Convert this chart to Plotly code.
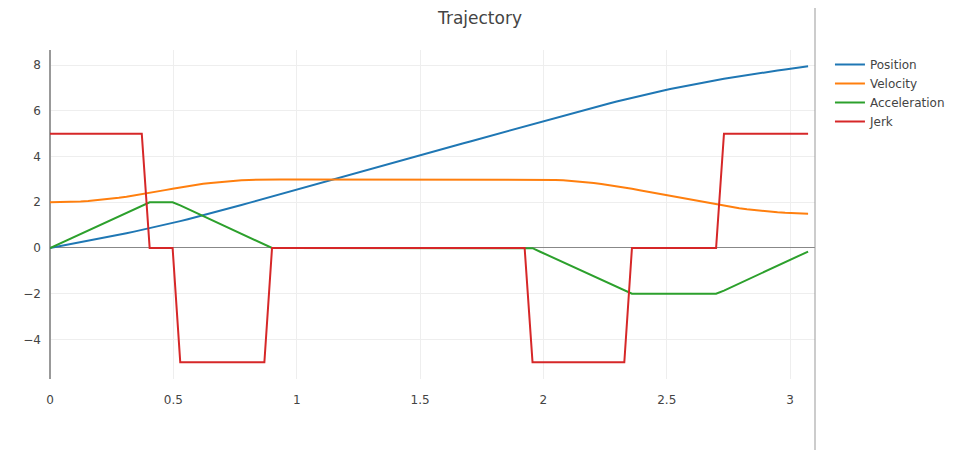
import plotly.graph_objects as go

time = [
    0.000, 0.031, 0.062, 0.093, 0.124, 0.155, 0.186, 0.217, 0.248, 0.279,
    0.310, 0.341, 0.372, 0.404, 0.435, 0.466, 0.497, 0.528, 0.559, 0.590,
    0.621, 0.652, 0.683, 0.714, 0.745, 0.776, 0.807, 0.838, 0.869, 0.900,
    0.931, 0.962, 0.993, 1.024, 1.055, 1.086, 1.117, 1.148, 1.180, 1.211,
    1.242, 1.273, 1.304, 1.335, 1.366, 1.397, 1.428, 1.459, 1.490, 1.521,
    1.552, 1.583, 1.614, 1.645, 1.676, 1.707, 1.738, 1.769, 1.800, 1.831,
    1.862, 1.893, 1.924, 1.956, 1.987, 2.018, 2.049, 2.080, 2.111, 2.142,
    2.173, 2.204, 2.235, 2.266, 2.297, 2.328, 2.359, 2.390, 2.421, 2.452,
    2.483, 2.514, 2.545, 2.576, 2.607, 2.638, 2.669, 2.700, 2.732, 2.763,
    2.794, 2.825, 2.856, 2.887, 2.918, 2.949, 2.980, 3.011, 3.042, 3.073,
]

position = [
    0.000, 0.062, 0.124, 0.187, 0.250, 0.314, 0.378, 0.443, 0.509, 0.577,
    0.646, 0.716, 0.788, 0.862, 0.938, 1.015, 1.095, 1.176, 1.259, 1.344,
    1.431, 1.518, 1.607, 1.697, 1.788, 1.880, 1.972, 2.064, 2.157, 2.251,
    2.344, 2.437, 2.530, 2.623, 2.716, 2.809, 2.902, 2.995, 3.089, 3.182,
    3.275, 3.368, 3.461, 3.554, 3.647, 3.740, 3.834, 3.927, 4.020, 4.113,
    4.206, 4.299, 4.392, 4.485, 4.579, 4.672, 4.765, 4.858, 4.951, 5.044,
    5.137, 5.230, 5.323, 5.417, 5.510, 5.603, 5.695, 5.787, 5.879, 5.970,
    6.060, 6.149, 6.236, 6.323, 6.407, 6.490, 6.572, 6.651, 6.729, 6.804,
    6.878, 6.950, 7.019, 7.087, 7.153, 7.217, 7.279, 7.340, 7.398, 7.454,
    7.509, 7.562, 7.614, 7.665, 7.715, 7.764, 7.812, 7.859, 7.906, 7.953,
]

velocity = [
    2.000, 2.002, 2.010, 2.022, 2.039, 2.060, 2.087, 2.118, 2.154, 2.195,
    2.241, 2.292, 2.347, 2.407, 2.469, 2.531, 2.593, 2.653, 2.709, 2.759,
    2.805, 2.846, 2.882, 2.913, 2.940, 2.962, 2.978, 2.990, 2.998, 3.000,
    3.000, 3.000, 3.000, 3.000, 3.000, 3.000, 3.000, 3.000, 3.000, 3.000,
    3.000, 3.000, 3.000, 3.000, 3.000, 3.000, 3.000, 3.000, 3.000, 3.000,
    3.000, 3.000, 3.000, 3.000, 3.000, 3.000, 3.000, 3.000, 3.000, 3.000,
    3.000, 3.000, 3.000, 3.000, 2.997, 2.990, 2.978, 2.961, 2.939, 2.912,
    2.880, 2.844, 2.803, 2.757, 2.706, 2.650, 2.590, 2.528, 2.466, 2.404,
    2.342, 2.280, 2.217, 2.155, 2.093, 2.031, 1.969, 1.907, 1.847, 1.792,
    1.741, 1.695, 1.654, 1.618, 1.587, 1.560, 1.539, 1.522, 1.510, 1.502,
]

acceleration = [
    0.000, 0.155, 0.310, 0.466, 0.621, 0.776, 0.931, 1.086, 1.242, 1.397,
    1.552, 1.707, 1.862, 2.000, 2.000, 2.000, 2.000, 1.862, 1.706, 1.551,
    1.396, 1.241, 1.086, 0.930, 0.775, 0.620, 0.465, 0.310, 0.154, 0.000,
    0.000, 0.000, 0.000, 0.000, 0.000, 0.000, 0.000, 0.000, 0.000, 0.000,
    0.000, 0.000, 0.000, 0.000, 0.000, 0.000, 0.000, 0.000, 0.000, 0.000,
    0.000, 0.000, 0.000, 0.000, 0.000, 0.000, 0.000, 0.000, 0.000, 0.000,
    0.000, 0.000, 0.000, -0.008, -0.163, -0.318, -0.473, -0.628, -0.784, -0.939,
    -1.094, -1.249, -1.404, -1.560, -1.715, -1.870, -2.000, -2.000, -2.000, -2.000,
    -2.000, -2.000, -2.000, -2.000, -2.000, -2.000, -2.000, -2.000, -1.862, -1.707,
    -1.552, -1.397, -1.242, -1.086, -0.931, -0.776, -0.621, -0.466, -0.310, -0.155,
]

jerk = [
    5, 5, 5, 5, 5, 5, 5, 5, 5, 5,
    5, 5, 5, 0, 0, 0, 0, -5, -5, -5,
    -5, -5, -5, -5, -5, -5, -5, -5, -5, 0,
    0, 0, 0, 0, 0, 0, 0, 0, 0, 0,
    0, 0, 0, 0, 0, 0, 0, 0, 0, 0,
    0, 0, 0, 0, 0, 0, 0, 0, 0, 0,
    0, 0, 0, -5, -5, -5, -5, -5, -5, -5,
    -5, -5, -5, -5, -5, -5, 0, 0, 0, 0,
    0, 0, 0, 0, 0, 0, 0, 0, 5, 5,
    5, 5, 5, 5, 5, 5, 5, 5, 5, 5,
]

series = {
    "Position": (position, "#1f77b4"),
    "Velocity": (velocity, "#ff7f0e"),
    "Acceleration": (acceleration, "#2ca02c"),
    "Jerk": (jerk, "#d62728"),
}

t_end = 3.101

fig = go.Figure()
for name, (values, color) in series.items():
    fig.add_trace(
        go.Scatter(
            x=time,
            y=values,
            mode="lines",
            name=name,
            line=dict(color=color, width=2),
        )
    )

# thin divider on the right edge of the plot area
fig.add_shape(
    type="line",
    xref="paper",
    yref="paper",
    x0=1,
    x1=1,
    y0=-0.4,
    y1=1.4,
    line=dict(color="#999", width=1),
)

fig.update_layout(
    template="none",
    width=952,
    height=442,
    margin=dict(l=42, r=145, t=42, b=71),
    font=dict(family="DejaVu Sans", color="#444", size=12),
    title=dict(
        text="Trajectory",
        x=0.4958,
        xanchor="center",
        y=0.977,
        yanchor="middle",
        font=dict(size=17),
    ),
    legend=dict(xref="container", x=0.8634, xanchor="left", yref="paper", y=1, yanchor="top"),
    xaxis=dict(
        range=[0, t_end],
        dtick=0.5,
        showgrid=True,
        gridcolor="#eee",
        zeroline=True,
        zerolinecolor="#999",
        zerolinewidth=2,
        ticks="",
        ticklabelstandoff=12,
    ),
    yaxis=dict(
        range=[-5.73, 8.66],
        dtick=2,
        showgrid=True,
        gridcolor="#eee",
        zeroline=True,
        zerolinecolor="#888",
        zerolinewidth=1,
        ticks="",
        ticklabelstandoff=8,
    ),
)

fig.write_html("out.html")
